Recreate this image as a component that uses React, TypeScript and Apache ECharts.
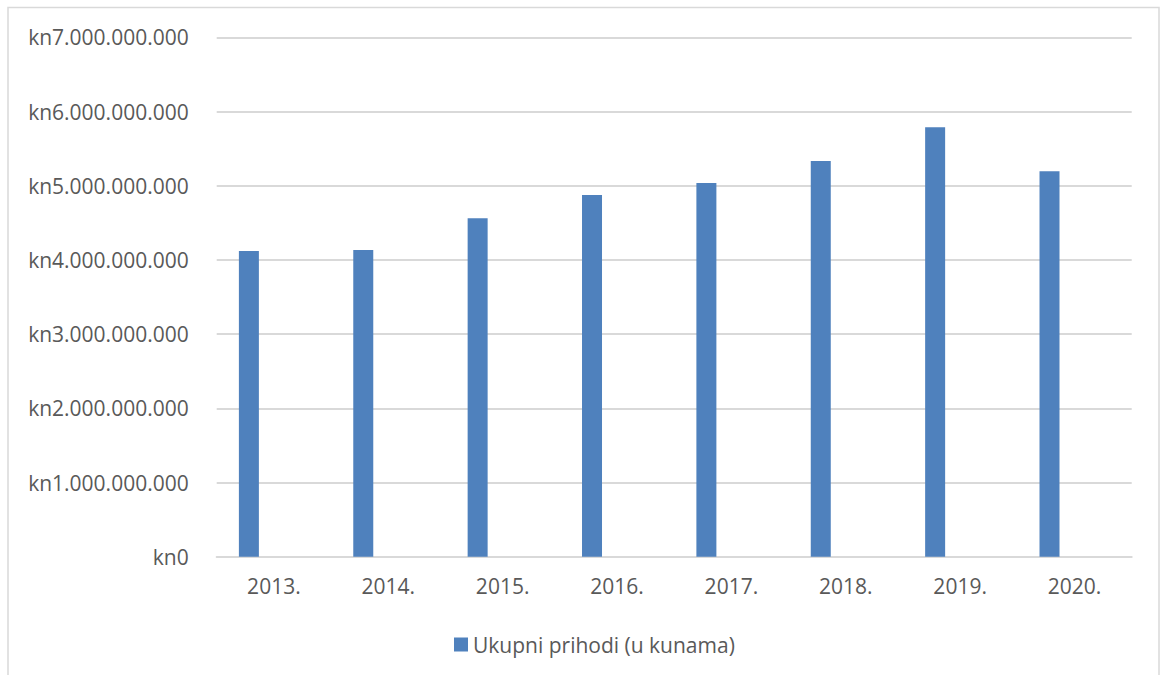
import React, { useEffect, useRef } from "react";
import * as echarts from "echarts";

const categories = ["2013.", "2014.", "2015.", "2016.", "2017.", "2018.", "2019.", "2020."];
const prihodi = [4120000000, 4133000000, 4561000000, 4875000000, 5036000000, 5333000000, 5787000000, 5194000000];
const emptySeries = [null, null, null, null, null, null, null, null];
const seriesName = "Ukupni prihodi (u kunama)";

const FONT = "'Open Sans', sans-serif";
const TEXT = "#595959";

function fmt(v: number) {
  const s = Math.round(v).toString();
  return "kn" + s.replace(/\B(?=(\d{3})+(?!\d))/g, ".");
}

export default function App() {
  const ref = useRef<HTMLDivElement>(null);
  useEffect(() => {
    const chart = echarts.init(ref.current!, null, { renderer: "svg" });
    chart.setOption({
      animation: false,
      backgroundColor: "#ffffff",
      graphic: [
        {
          type: "rect",
          shape: { x: 8, y: 7.5, width: 1151, height: 700 },
          style: { fill: "none", stroke: "#d9d9d9", lineWidth: 1.5 },
          silent: true,
        },
      ],
      grid: { left: 216.7, right: 28.3, top: 37.3, bottom: 118.3, containLabel: false },
      legend: {
        data: [seriesName],
        left: 449,
        top: 629,
        itemWidth: 14,
        itemHeight: 14,
        icon: "rect",
        itemGap: 6,
        textStyle: { color: TEXT, fontFamily: FONT, fontSize: 21 },
      },
      xAxis: {
        type: "category",
        data: categories,
        axisLine: { show: true, lineStyle: { color: "#d9d9d9", width: 2 } },
        axisTick: { show: false },
        axisLabel: { color: TEXT, fontFamily: FONT, fontSize: 21, margin: 19 },
      },
      yAxis: {
        type: "value",
        min: 0,
        max: 7000000000,
        interval: 1000000000,
        axisLine: { show: false },
        axisTick: { show: false },
        splitLine: { lineStyle: { color: "#d9d9d9", width: 2 } },
        axisLabel: {
          color: TEXT,
          fontFamily: FONT,
          fontSize: 21,
          margin: 28,
          formatter: (v: number) => fmt(v),
        },
      },
      series: [
        {
          name: seriesName,
          type: "bar",
          data: prihodi,
          barWidth: 20,
          barGap: "150%",
          itemStyle: { color: "#4f81bd" },
        },
        {
          name: "empty",
          type: "bar",
          data: emptySeries,
          barWidth: 20,
          barGap: "150%",
          itemStyle: { color: "#c0504d" },
        },
      ],
    });
    return () => chart.dispose();
  }, []);
  return (
    <div
      ref={ref}
      style={{ position: "fixed", left: 0, top: 0, width: 1160, height: 675 }}
    />
  );
}
